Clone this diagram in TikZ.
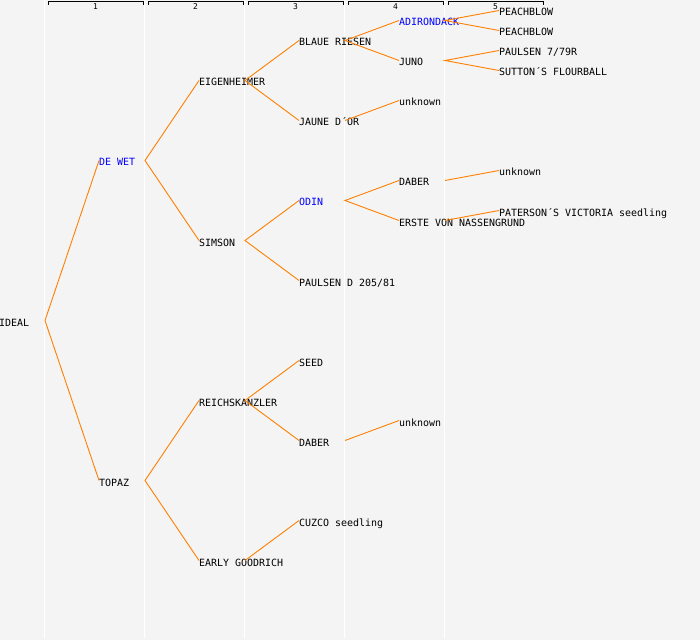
\documentclass[tikz,border=0pt]{standalone}
\usepackage{fontspec}
\setmonofont{DejaVu Sans Mono}
\definecolor{branchorange}{RGB}{255,128,0}
\definecolor{sheetgray}{RGB}{244,244,244}
\begin{document}
\begin{tikzpicture} [x=1bp,y=-1bp,
	cultivar/.style={anchor=west,inner sep=0pt,text height=11bp,text depth=0pt,font=\ttfamily\fontsize{10}{12}\selectfont},
	named/.style={cultivar,text=blue},
	branch/.style={draw=branchorange,line width=0.9bp},
	colsep/.style={draw=white,line width=1.3bp},
	bracket/.style={draw=black,line width=1bp},
	colnum/.style={inner sep=0pt,font=\ttfamily\fontsize{8}{9}\selectfont}]
	\fill[sheetgray] (0,0) rectangle (700,640);
	\useasboundingbox (0,0) rectangle (700,640);

	% generation columns
	\draw[colsep] (44.5,0) -- (44.5,638);
	\draw[colsep] (144.5,0) -- (144.5,638);
	\draw[colsep] (244.5,0) -- (244.5,638);
	\draw[colsep] (344.5,0) -- (344.5,638);
	\draw[colsep] (444.5,0) -- (444.5,638);
	\draw[bracket] (48,5) -- (48,2) -- (143,2) -- (143,5);
	\draw[bracket] (148,5) -- (148,2) -- (243,2) -- (243,5);
	\draw[bracket] (248,5) -- (248,2) -- (343,2) -- (343,5);
	\draw[bracket] (348,5) -- (348,2) -- (443,2) -- (443,5);
	\draw[bracket] (448,5) -- (448,2) -- (543,2) -- (543,5);
	\node (colA) at (95.5,6.5)[colnum] {1};
	\node (colB) at (195.5,6.5)[colnum] {2};
	\node (colC) at (295.5,6.5)[colnum] {3};
	\node (colD) at (395.5,6.5)[colnum] {4};
	\node (colE) at (495.5,6.5)[colnum] {5};

	\node (ideal) at (-1,320.5)[cultivar] {IDEAL};
	\node (dewet) at (99,160.5)[named] {DE WET};
	\node (topaz) at (99,480.5)[cultivar] {TOPAZ};
	\node (eigenheimer) at (199,80.5)[cultivar] {EIGENHEIMER};
	\node (simson) at (199,240.5)[cultivar] {SIMSON};
	\node (reichskanzler) at (199,400.5)[cultivar] {REICHSKANZLER};
	\node (goodrich) at (199,560.5)[cultivar] {EARLY GOODRICH};
	\node (blaue) at (299,40.5)[cultivar] {BLAUE RIESEN};
	\node (jaune) at (299,120.5)[cultivar] {JAUNE D´OR};
	\node (odin) at (299,200.5)[named] {ODIN};
	\node (paulsenD) at (299,280.5)[cultivar] {PAULSEN D 205/81};
	\node (seed) at (299,360.5)[cultivar] {SEED};
	\node (daberA) at (299,440.5)[cultivar] {DABER};
	\node (cuzco) at (299,520.5)[cultivar] {CUZCO seedling};
	\node (adirondack) at (399,20.5)[named] {ADIRONDACK};
	\node (juno) at (399,60.5)[cultivar] {JUNO};
	\node (unknownA) at (399,100.5)[cultivar] {unknown};
	\node (daberB) at (399,180.5)[cultivar] {DABER};
	\node (erste) at (399,220.5)[cultivar] {ERSTE VON NASSENGRUND};
	\node (unknownB) at (399,420.5)[cultivar] {unknown};
	\node (peachA) at (499,10.5)[cultivar] {PEACHBLOW};
	\node (peachB) at (499,30.5)[cultivar] {PEACHBLOW};
	\node (paulsen7) at (499,50.5)[cultivar] {PAULSEN 7/79R};
	\node (sutton) at (499,70.5)[cultivar] {SUTTON´S FLOURBALL};
	\node (unknownC) at (499,170.5)[cultivar] {unknown};
	\node (paterson) at (499,210.5)[cultivar] {PATERSON´S VICTORIA seedling};

	% parent branches start at the next column line
	\draw[branch] (dewet.west) -- ([xshift=46bp]ideal.west) -- (topaz.west);
	\draw[branch] (eigenheimer.west) -- ([xshift=46bp]dewet.west) -- (simson.west);
	\draw[branch] (reichskanzler.west) -- ([xshift=46bp]topaz.west) -- (goodrich.west);
	\draw[branch] (blaue.west) -- ([xshift=46bp]eigenheimer.west) -- (jaune.west);
	\draw[branch] (odin.west) -- ([xshift=46bp]simson.west) -- (paulsenD.west);
	\draw[branch] (seed.west) -- ([xshift=46bp]reichskanzler.west) -- (daberA.west);
	\draw[branch] ([xshift=46bp]goodrich.west) -- (cuzco.west);
	\draw[branch] (adirondack.west) -- ([xshift=46bp]blaue.west) -- (juno.west);
	\draw[branch] ([xshift=46bp]jaune.west) -- (unknownA.west);
	\draw[branch] (daberB.west) -- ([xshift=46bp]odin.west) -- (erste.west);
	\draw[branch] ([xshift=46bp]daberA.west) -- (unknownB.west);
	\draw[branch] (peachA.west) -- ([xshift=46bp]adirondack.west) -- (peachB.west);
	\draw[branch] (paulsen7.west) -- ([xshift=46bp]juno.west) -- (sutton.west);
	\draw[branch] ([xshift=46bp]daberB.west) -- (unknownC.west);
	\draw[branch] ([xshift=46bp]erste.west) -- (paterson.west);
\end{tikzpicture}
\end{document}
